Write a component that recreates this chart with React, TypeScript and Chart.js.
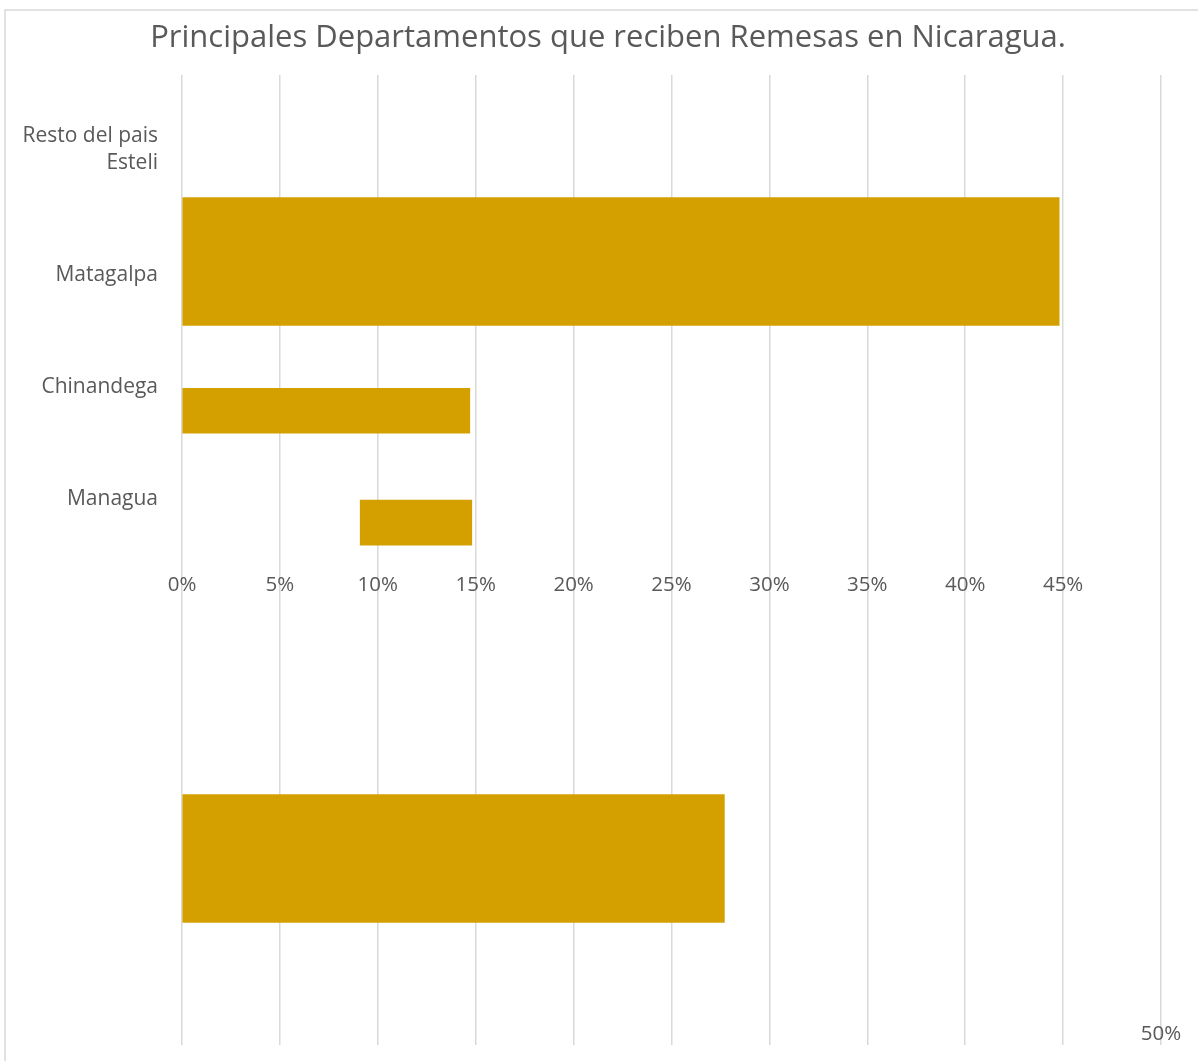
import React, { useEffect, useRef } from "react";
import { Chart, registerables } from "chart.js";

Chart.register(...registerables);

// ---- data ----
const chartTitle = "Principales Departamentos que reciben Remesas en Nicaragua.";
const departments = ["Resto del pais", "Esteli", "Matagalpa", "Chinandega", "Managua"];
const barCategories = ["Matagalpa", "Chinandega", "Managua", "Resto del pais"];
const barStart = [0, 0, 0.091, 0];
const barEnd = [0.448, 0.147, 0.148, 0.277];
const xTickLabels = ["0%", "5%", "10%", "15%", "20%", "25%", "30%", "35%", "40%", "45%"];
const lastTickLabel = "50%";

// ---- layout (rows on the category axis, sizes, styles) ----
const ROWS = 27;
const labelRows = [2, 2, 5, 8, 11];
const barRows = [5, 9, 12, 21];
const barThicknessPx = [128, 45, 45, 128];
const xAxisRow = 13.35;
const x2AxisRow = 25.39;
const BAR_COLOR = "rgb(212,160,0)";
const TEXT_COLOR = "#595959";
const GRID_COLOR = "#d9d9d9";
const FONT = "'Open Sans', 'Noto Sans', sans-serif";

const framePlugin = {
  id: "frame",
  beforeDraw(chart: any) {
    const { ctx, width, height } = chart;
    ctx.save();
    ctx.fillStyle = "#ffffff";
    ctx.fillRect(0, 0, width, height);
    ctx.strokeStyle = GRID_COLOR;
    ctx.lineWidth = 1.5;
    ctx.beginPath();
    ctx.moveTo(5, height);
    ctx.lineTo(5, 10);
    ctx.lineTo(width, 10);
    ctx.stroke();
    ctx.restore();
  },
  afterDraw(chart: any) {
    const { ctx } = chart;
    ctx.save();
    ctx.fillStyle = TEXT_COLOR;
    ctx.font = `31px ${FONT}`;
    ctx.textAlign = "center";
    ctx.textBaseline = "middle";
    ctx.fillText(chartTitle, 608, 38);
    ctx.restore();
  },
};

export default function App() {
  const ref = useRef<HTMLCanvasElement>(null);
  useEffect(() => {
    document.body.style.margin = "0";
    const rowLabels = Array.from({ length: ROWS }, (_, r) => {
      const names = departments.filter((_, i) => labelRows[i] === r);
      if (names.length === 0) return "";
      if (names.length === 1) return ["", names[0]];
      return names;
    });
    const datasets = barCategories.map((name, i) => {
      const data: any[] = Array(ROWS).fill(null);
      data[barRows[i]] = [barStart[i], barEnd[i]];
      return {
        label: name,
        data,
        backgroundColor: BAR_COLOR,
        barThickness: barThicknessPx[i],
        grouped: false,
        borderWidth: 0,
      };
    });
    const chart = new Chart(ref.current as HTMLCanvasElement, {
      type: "bar",
      data: { labels: rowLabels as any, datasets: datasets as any },
      plugins: [framePlugin],
      options: {
        animation: false,
        responsive: true,
        maintainAspectRatio: false,
        indexAxis: "y",
        layout: { padding: { top: 75, right: 37, bottom: 16, left: 0 } },
        plugins: { legend: { display: false }, tooltip: { enabled: false }, title: { display: false } },
        scales: {
          y: {
            type: "category",
            offset: false,
            grid: { display: false, drawTicks: true, tickLength: 24 },
            border: { display: false },
            ticks: {
              autoSkip: false,
              padding: 0,
              color: TEXT_COLOR,
              font: { family: FONT, size: 21, lineHeight: 1.29 },
            },
            afterFit: (s: any) => {
              s.width = 182;
            },
          },
          x: {
            type: "linear",
            min: 0,
            max: 0.5,
            position: { y: xAxisRow } as any,
            grid: { color: GRID_COLOR, lineWidth: 1.5, drawTicks: false },
            border: { display: false },
            ticks: {
              stepSize: 0.05,
              autoSkip: false,
              maxRotation: 0,
              padding: 0,
              color: TEXT_COLOR,
              font: { family: FONT, size: 20.5 },
              callback: (_v: any, i: number) => xTickLabels[i] ?? "",
            },
          },
          x2: {
            type: "linear",
            axis: "x",
            min: 0,
            max: 0.5,
            position: { y: x2AxisRow } as any,
            grid: { display: false, drawTicks: false },
            border: { display: false },
            ticks: {
              stepSize: 0.05,
              autoSkip: false,
              maxRotation: 0,
              padding: 0,
              color: TEXT_COLOR,
              font: { family: FONT, size: 20.5 },
              callback: (_v: any, i: number) => (i === xTickLabels.length ? lastTickLabel : ""),
            },
          },
        } as any,
      },
    });
    return () => chart.destroy();
  }, []);
  return (
    <div style={{ position: "relative", width: 1198, height: 1061 }}>
      <canvas ref={ref} />
    </div>
  );
}
